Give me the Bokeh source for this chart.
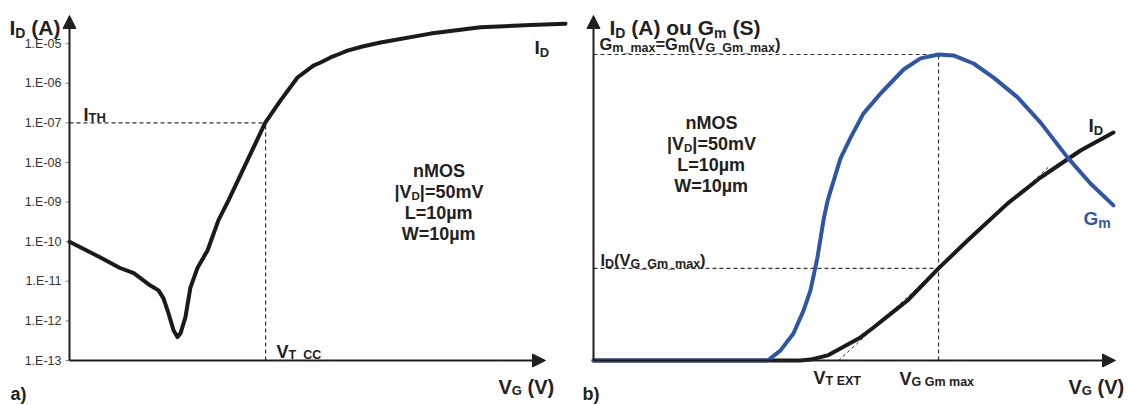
import numpy as np
from bokeh.plotting import figure
from bokeh.models import Range1d, Arrow, NormalHead
from bokeh.layouts import row
from bokeh.core.properties import value
from bokeh.embed import file_html
from bokeh.resources import INLINE

# ---------------- data: panel a (log scale) ----------------
vg_a = [-0.50, -0.37, -0.29, -0.23, -0.16, -0.126, -0.105, -0.084, -0.063, -0.046,
        -0.034, -0.013, 0.008, 0.038, 0.080, 0.126, 0.168, 0.322, 0.387, 0.458,
        0.525, 0.555, 0.597, 0.639, 0.668, 0.731, 0.807, 1.017, 1.227, 1.437, 1.584]
id_a = [1.0e-10, 4.0e-11, 2.2e-11, 1.6e-11, 7.8e-12, 5.9e-12, 3.7e-12, 1.55e-12, 5.8e-13, 3.9e-13,
        4.8e-13, 1.23e-12, 6.9e-12, 2.2e-11, 6.0e-11, 3.5e-10, 1.1e-9, 1.0e-7, 3.7e-7, 1.4e-6,
        2.8e-6, 3.35e-6, 4.5e-6, 5.66e-6, 6.7e-6, 8.5e-6, 1.07e-5, 1.8e-5, 2.6e-5, 2.95e-5, 3.2e-5]
y_ticks_a = [1e-13, 1e-12, 1e-11, 1e-10, 1e-9, 1e-8, 1e-7, 1e-6, 1e-5]
y_tick_labels_a = ["1.E-13", "1.E-12", "1.E-11", "1.E-10", "1.E-09", "1.E-08", "1.E-07", "1.E-06", "1.E-05"]
i_th = 1.0e-7
vt_cc = 0.324

# ---------------- data: panel b (linear scale, normalised) ----------------
vg_gm = [0.0, 0.667, 0.716, 0.766, 0.805, 0.831, 0.858, 0.881, 0.897, 0.946, 0.985, 1.034,
         1.100, 1.188, 1.253, 1.322, 1.379, 1.456, 1.533, 1.625, 1.713, 1.816, 1.904, 1.992]
gm_b = [0.0, 0.0, 0.033, 0.090, 0.167, 0.233, 0.343, 0.467, 0.533, 0.673, 0.743, 0.823,
        0.890, 0.970, 1.007, 1.020, 1.017, 0.990, 0.943, 0.877, 0.793, 0.677, 0.590, 0.517]
vg_id = [0.0, 0.793, 0.831, 0.897, 0.946, 1.023, 1.073, 1.149, 1.203, 1.322, 1.433, 1.586,
         1.713, 1.866, 1.992]
id_b = [0.0, 0.0, 0.003, 0.017, 0.040, 0.077, 0.110, 0.163, 0.200, 0.307, 0.400, 0.523,
        0.610, 0.700, 0.760]
vg_gm_max = 1.322
gm_max = 1.020
id_gm_max = 0.307
vt_ext = 0.939
tangent_end = 1.745

FONT = "Liberation Sans"
INK = "#231f20"
CURVE = "#1a1a1a"
BLUE = "#2f56a6"
DASH = "#333333"

REG = {' ': 278, '(': 333, ')': 333, '=': 584, '_': 556, '|': 260, '.': 278, '-': 333,
       'A': 667, 'C': 722, 'D': 722, 'E': 667, 'G': 778, 'H': 722, 'I': 278, 'L': 556,
       'M': 833, 'O': 778, 'S': 667, 'T': 611, 'V': 667, 'W': 944, 'X': 667, 'a': 556,
       'm': 833, 'x': 500, 'n': 556, 'o': 556, 'u': 556, 'µ': 576, 'b': 556}
BOLD = {' ': 278, '(': 333, ')': 333, '=': 584, '_': 556, '|': 280, '.': 278, '-': 333,
        'A': 722, 'C': 722, 'D': 722, 'E': 667, 'G': 778, 'H': 722, 'I': 278, 'L': 611,
        'M': 833, 'O': 778, 'S': 667, 'T': 611, 'V': 667, 'W': 944, 'X': 667, 'a': 556,
        'm': 889, 'x': 556, 'n': 611, 'o': 611, 'u': 611, 'µ': 611, 'b': 611}


def tw(s, size, bold):
    tbl = BOLD if bold else REG
    return sum(tbl.get(c, 556) for c in s) * size / 1000.0


def rich(p, x, y, parts, dx=0, dy=0, align="left", color=INK):
    total = sum(tw(t, s, b) for t, s, b, _ in parts)
    off = dx - {"left": 0, "center": total / 2, "right": total}[align]
    for t, s, b, sh in parts:
        lead = len(t) - len(t.lstrip(" "))
        core = t.strip(" ")
        off += tw(" " * lead, s, b)
        if core:
            p.text(x=[x], y=[y], text=[core], x_offset=off, y_offset=dy + sh,
                   text_font=value(FONT), text_font_size=f"{s}px",
                   text_font_style="bold" if b else "normal",
                   text_align="left", text_baseline="alphabetic", text_color=color)
        off += tw(t.lstrip(" "), s, b)


def axis_arrow(p, x0, y0, x1, y1):
    p.add_layout(Arrow(end=NormalHead(size=13, fill_color=INK, line_color=INK, line_width=1),
                       x_start=x0, y_start=y0, x_end=x1, y_end=y1,
                       line_color=INK, line_width=2))


def base_fig(width, xr, yr, ytype="linear"):
    p = figure(width=width, height=405, x_range=xr, y_range=yr, y_axis_type=ytype,
               output_backend="svg", toolbar_location=None, min_border=0,
               x_axis_location=None, y_axis_location=None, title=None,
               outline_line_color=None, background_fill_color="white",
               border_fill_color="white")
    p.grid.visible = False
    return p


def note(p, x, y, size=18):
    rich(p, x, y, [("nMOS", size, True, 0)], align="center")
    rich(p, x, y, [("|V", size, True, 0), ("D", 11.5, True, 4), ("|=50mV", size, True, 0)], dy=21, align="center")
    rich(p, x, y, [("L=10µm", size, True, 0)], dy=42, align="center")
    rich(p, x, y, [("W=10µm", size, True, 0)], dy=63, align="center")


# ================= panel a =================
xa0, xa1 = -0.5, 1.5
ya0, ya_top = 1e-13, 10 ** -4.288
pa = base_fig(580, Range1d(-0.7899, 1.6471), Range1d(10 ** -14.136, 10 ** -3.909), "log")

pa.line([xa0, vt_cc], [i_th, i_th], line_color=DASH, line_width=1.2, line_dash="4 3")
pa.line([vt_cc, vt_cc], [ya0, i_th], line_color=DASH, line_width=1.2, line_dash="4 3")
pa.line(vg_a, id_a, line_color=CURVE, line_width=4, line_join="round", line_cap="round")

pa.ray(x=[xa0] * len(y_ticks_a), y=y_ticks_a, length=4, length_units="screen",
       angle=np.pi, line_color="#888888", line_width=1)
pa.text(x=[xa0] * len(y_ticks_a), y=y_ticks_a, text=y_tick_labels_a, x_offset=-8,
        text_align="right", text_baseline="middle", text_font=value(FONT),
        text_font_size="12.5px", text_color="#333333")

axis_arrow(pa, xa0, ya0, xa0, ya_top)
axis_arrow(pa, xa0, ya0, xa1, ya0)

rich(pa, xa0, ya_top, [("I", 21, True, 0), ("D", 14, True, 5), (" (A)", 21, True, 0)], dx=-60, dy=12)
rich(pa, xa0, i_th, [("I", 18, True, 0), ("TH", 13, True, 3)], dx=14, dy=-8)
rich(pa, vt_cc, ya0, [("V", 18, True, 0), ("T_CC", 12.5, True, 3)], dx=11, dy=-9)
rich(pa, xa1, ya0, [("V", 20, True, 0), ("G", 13, True, 4), (" (V)", 20, True, 0)], dx=-47, dy=26)
rich(pa, vg_a[-1], id_a[-1], [("I", 19, True, 0), ("D", 13, True, 5)], dx=-31, dy=24)
rich(pa, xa0, ya0, [("a)", 18, True, 0)], dx=-59, dy=33)
note(pa, 1.0525, 10 ** -8.202)

# ================= panel b =================
xb0, xb1 = 0.0, 2.0
yb0, yb_top = 0.0, 1.15
pb = base_fig(548, Range1d(-0.0498, 2.0498), Range1d(-0.15, 1.2))

pb.line([xb0, vg_gm_max], [gm_max, gm_max], line_color=DASH, line_width=1.2, line_dash="4 3")
pb.line([xb0, vg_gm_max], [id_gm_max, id_gm_max], line_color=DASH, line_width=1.2, line_dash="4 3")
pb.line([vg_gm_max, vg_gm_max], [yb0, gm_max], line_color=DASH, line_width=1.2, line_dash="4 3")
slope = id_gm_max / (vg_gm_max - vt_ext)
pb.line([vt_ext, tangent_end], [0.0, slope * (tangent_end - vt_ext)],
        line_color=DASH, line_width=1, line_dash="3 3")

pb.line(vg_id, id_b, line_color=CURVE, line_width=4, line_join="round", line_cap="round")
pb.line(vg_gm, gm_b, line_color=BLUE, line_width=4, line_join="round", line_cap="round")

axis_arrow(pb, xb0, yb0, xb0, yb_top)
axis_arrow(pb, xb0, yb0, xb1, yb0)

rich(pb, xb0, yb_top, [("I", 21, True, 0), ("D", 14, True, 5), (" (A) ou G", 21, True, 0),
                       ("m", 14, True, 5), (" (S)", 21, True, 0)], dx=16, dy=12)
rich(pb, xb0, gm_max, [("G", 16.5, True, 0), ("m_max", 12.5, True, 4), ("=G", 16.5, True, 0),
                       ("m", 12.5, True, 4), ("(V", 16.5, True, 0), ("G_Gm_max", 12.5, True, 4),
                       (")", 16.5, True, 0)], dx=6, dy=-11)
rich(pb, xb0, id_gm_max, [("I", 16.5, True, 0), ("D", 12.5, True, 4), ("(V", 16.5, True, 0),
                          ("G_Gm_max", 12.5, True, 4), (")", 16.5, True, 0)], dx=7, dy=-8)
rich(pb, vt_ext, yb0, [("V", 18, True, 0), ("T EXT", 12.5, True, 3)], dx=-25, dy=17)
rich(pb, vg_gm_max, yb0, [("V", 18, True, 0), ("G Gm max", 12.5, True, 3)], dx=-39, dy=18)
rich(pb, xb1, yb0, [("V", 20, True, 0), ("G", 13, True, 4), (" (V)", 20, True, 0)], dx=-47, dy=26)
rich(pb, vg_id[-1], id_b[-1], [("I", 19, True, 0), ("D", 13, True, 5)], dx=-25, dy=-7)
rich(pb, vg_gm[-1], gm_b[-1], [("G", 19, True, 0), ("m", 14, True, 5)], dx=-30, dy=13, color=BLUE)
rich(pb, xb0, yb0, [("b)", 18, True, 0)], dx=-11, dy=33)
note(pb, 0.452, 0.793)

layout = row(pa, pb)
open("out.html", "w").write(file_html(layout, INLINE))
